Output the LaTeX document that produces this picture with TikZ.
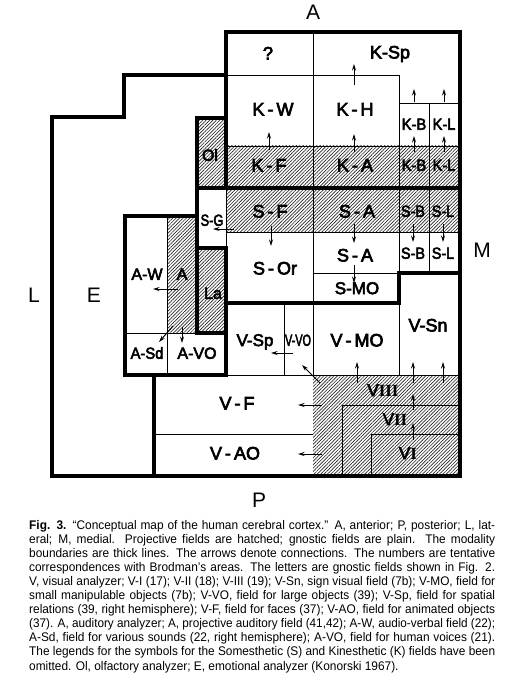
\documentclass[tikz,border=0pt]{standalone}
\usepackage{fontspec}
\setmainfont{Liberation Sans}
\newfontfamily\labfont{Liberation Sans}[BoldFont=Liberation Sans, BoldFeatures={FakeBold=3.5}]
\newfontfamily\numserif{Liberation Serif}[BoldFont=Liberation Serif Bold]
\usetikzlibrary{patterns.meta,arrows.meta}
\newlength\capw
\newcommand{\capl}[1]{\settowidth\capw{#1}\scalebox{0.95}[1]{\ifdim\capw>490.5pt \resizebox{490.5pt}{\height}{#1}\else\makebox[490.5pt][s]{#1}\fi}}
\newcommand{\capll}[1]{\scalebox{0.95}[1]{#1}}
\begin{document}
\begin{tikzpicture}[x=1pt,y=-1pt,
  thk/.style={line width=3.2pt, line cap=rect, line join=miter},
  thn/.style={line width=0.9pt},
  hatch/.style={pattern={Lines[angle=45,distance=2.4pt,line width=0.65pt]}, pattern color=black!85},
  big/.style={font=\labfont\bfseries\fontsize{18}{18}\selectfont, inner sep=0pt, text height=12.9pt, text depth=0pt},
  sml/.style={font=\labfont\bfseries\fontsize{16}{16}\selectfont, inner sep=0pt, text height=11.5pt, text depth=0pt},
  mid/.style={font=\labfont\bfseries\fontsize{17}{17}\selectfont, inner sep=0pt, text height=12.2pt, text depth=0pt},
  outer/.style={font=\fontsize{21}{21}\selectfont, inner sep=0pt, text height=15pt, text depth=0pt},
  capline/.style={font=\fontsize{12.5}{14}\selectfont, inner sep=0pt, anchor=base west},
  arr/.style={line width=1pt, -{Stealth[length=6.5pt,width=4pt]}}]
\useasboundingbox (0,0) rectangle (515,676);
\fill[white] (0,0) rectangle (515,676);
% hatched (projective) fields
\fill[hatch] (197,118) rectangle (226,188);
\fill[hatch] (226,146) rectangle (460,232);
\fill[hatch] (167,216) rectangle (197,333);
\fill[hatch] (197,248) rectangle (226,333);
\fill[hatch] (313,375) rectangle (460,476);
% thin boundaries
\draw[thn] (313,32) -- (313,375);
\draw[thn] (226,75) -- (399,75) -- (399,375);
\draw[thn] (399,103) -- (460,103);
\draw[thn] (429,103) -- (429,273);
\draw[thn] (226,146) -- (460,146);
\draw[thn] (226,232) -- (460,232);
\draw[thn] (226,188) -- (226,248);
\draw[thn] (313,273) -- (399,273);
\draw[thn] (284,303) -- (284,375);
\draw[thn] (226,375) -- (460,375);
\draw[thn] (154,434) -- (313,434);
\draw[thn] (342,476) |- (460,405);
\draw[thn] (371,476) |- (460,434);
\draw[thn] (167,216) -- (167,375);
\draw[thn] (125,333) -- (197,333);
% thick (modality) boundaries
\draw[thk] (226,75) -- (124,75) -- (124,117) -- (52,117) -- (52,476) -- (460,476);
\draw[thk] (226,188) -- (226,32) -- (460,32) -- (460,476);
\draw[thk] (226,118) -- (197,118) -- (197,333) -- (226,333);
\draw[thk] (197,188) -- (460,188);
\draw[thk] (197,248) -- (226,248) -- (226,375);
\draw[thk] (197,216) -- (125,216) -- (125,375) -- (226,375);
\draw[thk] (226,303) -- (399,303) -- (399,273) -- (460,273);
\draw[thk] (154,375) -- (154,476);
% outer letters
\node[outer] (lA) at (313,12.5) {A};
\node[outer] (lP) at (259,500) {P};
\node[outer] (lL) at (34,295) {L};
\node[outer] (lE) at (94,295) {E};
\node[outer] (lM) at (482,250) {M};
% kinesthetic
\node[big] (q) at (268,53) {?};
\node[big] (ksp) at (390,52) {K-Sp};
\node[big] (kw) at (273,109) {K\,-\,W};
\node[big] (kh) at (355,109) {K\,-\,H};
\node[sml] (kb1) at (414,124) {\scalebox{0.92}[1]{K-B}};
\node[sml] (kl1) at (444,124) {\scalebox{0.92}[1]{K-L}};
\node[big] (kf) at (269,165) {K\,-\,F};
\node[big] (ka) at (355,165) {K\,-\,A};
\node[sml] (kb2) at (414,165) {\scalebox{0.92}[1]{K-B}};
\node[sml] (kl2) at (444,165) {\scalebox{0.92}[1]{K-L}};
\node[sml] (ol) at (210,155) {Ol};
% somesthetic
\node[big] (sf) at (270,211) {S\,-\,F};
\node[big] (sa1) at (357,211) {S\,-\,A};
\node[sml] (sb1) at (413,211) {\scalebox{0.9}[1]{S-B}};
\node[sml] (sl1) at (443,211) {\scalebox{0.9}[1]{S-L}};
\node[sml] (sg) at (212,220) {\scalebox{0.8}[1]{S-G}};
\node[big] (sor) at (275,268) {S\,-\,Or};
\node[big] (sa2) at (355,255) {S\,-\,A};
\node[sml] (sb2) at (413,253) {\scalebox{0.9}[1]{S-B}};
\node[sml] (sl2) at (443,253) {\scalebox{0.9}[1]{S-L}};
\node[mid] (smo) at (357,288) {S-MO};
\node[sml] (la) at (213,293) {La};
% auditory
\node[sml] (aw) at (147,274) {A-W};
\node[sml] (aa) at (182,274) {A};
\node[sml] (asd) at (147,353) {\scalebox{0.92}[1]{A-Sd}};
\node[sml] (avo) at (197,353) {A-VO};
% visual
\node[mid] (vsp) at (255,340) {V-Sp};
\node[sml] (vvo) at (298,340) {\scalebox{0.68}[1]{V-VO}};
\node[big] (vmo) at (357,340) {V\,-\,MO};
\node[big] (vsn) at (428,325) {V-Sn};
\node[big] (vf) at (237,403) {V\,-\,F};
\node[big] (vao) at (235,453) {V\,-\,AO};
\node[mid] (v3) at (383,390) {V{\numserif\bfseries III}};
\node[mid] (v2) at (395,419) {V{\numserif\bfseries II}};
\node[mid] (v1) at (408,453) {V{\numserif\bfseries I}};
% connections
\draw[arr] (354,85) -- (354,64);
\draw[arr] (414,102) -- (414,89);
\draw[arr] (444,102) -- (444,89);
\draw[arr] (269,150) -- (269,132);
\draw[arr] (354,152) -- (354,134);
\draw[arr] (414,152) -- (414,136);
\draw[arr] (444,152) -- (444,136);
\draw[arr] (271,226) -- (271,246);
\draw[arr] (354,224) -- (354,243);
\draw[arr] (354,265) -- (354,283);
\draw[arr] (413,224) -- (413,242);
\draw[arr] (443,224) -- (443,242);
\draw[arr] (234,229) -- (213,229);
\draw[arr] (178,289) -- (153,289);
\draw[arr] (173,326) -- (159,342);
\draw[arr] (182,327) -- (182,343);
\draw[arr] (293,353) -- (271,353);
\draw[arr] (320,383) -- (302,365);
\draw[arr] (357,383) -- (357,362);
\draw[arr] (413,383) -- (413,362);
\draw[arr] (443,383) -- (443,362);
\draw[arr] (413,410) -- (413,394);
\draw[arr] (413,440) -- (413,423);
\draw[arr] (322,405) -- (298,405);
\draw[arr] (322,454) -- (298,454);
% caption
\node[capline] (c1) at (29,529) {\capl{\textbf{Fig. 3.} “Conceptual map of the human cerebral cortex.” A, anterior; P, posterior; L, lat-}};
\node[capline] (c2) at (29,543.1) {\capl{eral; M, medial. Projective fields are hatched; gnostic fields are plain. The modality}};
\node[capline] (c3) at (29,557.2) {\capl{boundaries are thick lines. The arrows denote connections. The numbers are tentative}};
\node[capline] (c4) at (29,571.3) {\capl{correspondences with Brodman’s areas. The letters are gnostic fields shown in Fig. 2.}};
\node[capline] (c5) at (29,585.4) {\capl{V, visual analyzer; V-I (17); V-II (18); V-III (19); V-Sn, sign visual field (7b); V-MO, field for}};
\node[capline] (c6) at (29,599.5) {\capl{small manipulable objects (7b); V-VO, field for large objects (39); V-Sp, field for spatial}};
\node[capline] (c7) at (29,613.6) {\capl{relations (39, right hemisphere); V-F, field for faces (37); V-AO, field for animated objects}};
\node[capline] (c8) at (29,627.7) {\capl{(37). A, auditory analyzer; A, projective auditory field (41,42); A-W, audio-verbal field (22);}};
\node[capline] (c9) at (29,641.8) {\capl{A-Sd, field for various sounds (22, right hemisphere); A-VO, field for human voices (21).}};
\node[capline] (c10) at (29,655.9) {\capl{The legends for the symbols for the Somesthetic (S) and Kinesthetic (K) fields have been}};
\node[capline] (c11) at (29,670) {\capll{omitted. Ol, olfactory analyzer; E, emotional analyzer (Konorski 1967).}};
\end{tikzpicture}
\end{document}
